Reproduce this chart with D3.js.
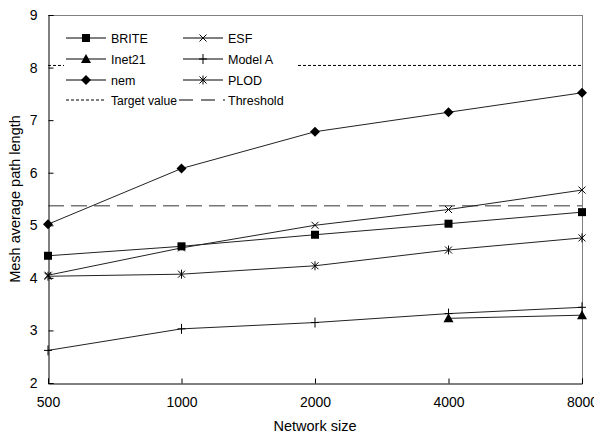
<!DOCTYPE html>
<html><head><meta charset="utf-8">
<script src="https://cdn.jsdelivr.net/npm/d3@7"></script>
<style>body{margin:0;background:#fff}svg{display:block}text{font-family:"Liberation Sans",Arial,sans-serif;fill:#000}</style>
</head><body><svg id="c" width="594" height="434"></svg>
<script>
const sizes = [500, 1000, 2000, 4000, 8000];
const brite = [4.42, 4.60, 4.82, 5.03, 5.25];
const esf = [4.05, 4.57, 5.00, 5.30, 5.67];
const inet21 = [null, null, null, 3.23, 3.29];
const modelA = [2.62, 3.03, 3.15, 3.32, 3.44];
const nem = [5.02, 6.08, 6.78, 7.15, 7.52];
const plod = [4.03, 4.07, 4.23, 4.53, 4.76];
const targetValue = 8.04;
const threshold = 5.37;
const yTicks = [2, 3, 4, 5, 6, 7, 8, 9];
const xTickLabels = ["500", "1000", "2000", "4000", "8000"];

const series = [
  {name: "BRITE", values: brite, marker: "square"},
  {name: "ESF", values: esf, marker: "x"},
  {name: "Inet21", values: inet21, marker: "triangle"},
  {name: "Model A", values: modelA, marker: "plus"},
  {name: "nem", values: nem, marker: "diamond"},
  {name: "PLOD", values: plod, marker: "asterisk"}
];

const svg = d3.select("#c");
const L = 48, R = 582, T = 15, B = 383;
const x = d3.scaleLog().base(2).domain([500, 8000]).range([L, R]);
const y = d3.scaleLinear().domain([2, 9]).range([B, T]);

// frame top/right
svg.append("line").attr("x1", L).attr("x2", R).attr("y1", T + 0.5).attr("y2", T + 0.5).attr("stroke", "#808080");
svg.append("line").attr("x1", R + 0.5).attr("x2", R + 0.5).attr("y1", T).attr("y2", B).attr("stroke", "#808080");

// axes
const yAxis = d3.axisLeft(y).tickValues(yTicks).tickSize(-5).tickPadding(11).tickFormat(d3.format("d"));
const gy = svg.append("g").attr("transform", `translate(${L + 0.5},0)`).call(yAxis);
const xAxis = d3.axisBottom(x).tickValues(sizes).tickSize(-5).tickPadding(14).tickFormat((d, i) => xTickLabels[i]);
const gx = svg.append("g").attr("transform", `translate(0,${B + 0.5})`).call(xAxis);
[gx, gy].forEach(g => {
  g.select(".domain").attr("stroke", "#000");
  g.selectAll(".tick line").attr("stroke", "#000");
  g.selectAll("text").attr("font-size", 14).attr("font-family", "Liberation Sans, Arial, sans-serif").attr("fill", "#000");
});

// reference lines
svg.append("line").attr("x1", L).attr("x2", R).attr("y1", y(targetValue)).attr("y2", y(targetValue))
  .attr("stroke", "#000").attr("stroke-dasharray", "3,2");
svg.append("line").attr("x1", L).attr("x2", R).attr("y1", y(threshold)).attr("y2", y(threshold))
  .attr("stroke", "#333").attr("stroke-dasharray", "16,7");

function drawMarker(g, type, cx, cy) {
  const s = g.append("g").attr("transform", `translate(${cx},${cy})`);
  if (type === "square") s.append("rect").attr("x", -4).attr("y", -4).attr("width", 8).attr("height", 8).attr("fill", "#000");
  else if (type === "triangle") s.append("path").attr("d", "M0,-5L5,4L-5,4Z").attr("fill", "#000");
  else if (type === "diamond") s.append("path").attr("d", "M0,-5L5,0L0,5L-5,0Z").attr("fill", "#000");
  else if (type === "x") s.append("path").attr("d", "M-3.5,-3.5L3.5,3.5M-3.5,3.5L3.5,-3.5").attr("stroke", "#000").attr("fill", "none");
  else if (type === "plus") s.append("path").attr("d", "M0,-5L0,5M-4,0L4,0").attr("stroke", "#000").attr("fill", "none");
  else if (type === "asterisk") s.append("path").attr("d", "M-3.5,-3.5L3.5,3.5M-3.5,3.5L3.5,-3.5M0,-4.5L0,4.5").attr("stroke", "#000").attr("fill", "none");
}

const line = d3.line().defined(d => d.v != null).x(d => x(d.s)).y(d => y(d.v));
series.forEach(sr => {
  const pts = sizes.map((s, i) => ({s, v: sr.values[i]}));
  svg.append("path").attr("d", line(pts)).attr("fill", "none").attr("stroke", "#222").attr("stroke-width", 1);
});
series.forEach(sr => {
  sizes.forEach((s, i) => { if (sr.values[i] != null) drawMarker(svg, sr.marker, x(s), y(sr.values[i])); });
});

// legend
const lg = svg.append("g");
lg.append("rect").attr("x", 64).attr("y", 27).attr("width", 232).attr("height", 84).attr("fill", "#fff");
const cols = [66, 183], rowY = [38, 59, 80, 100];
series.forEach((sr, i) => {
  const cx = cols[i % 2], cy = rowY[Math.floor(i / 2)];
  lg.append("line").attr("x1", cx).attr("x2", cx + 40).attr("y1", cy).attr("y2", cy).attr("stroke", "#000");
  drawMarker(lg, sr.marker, cx + 20, cy);
  lg.append("text").attr("x", cx + 45).attr("y", cy + 4.5).attr("font-size", 12.5).text(sr.name);
});
lg.append("line").attr("x1", cols[0]).attr("x2", cols[0] + 40).attr("y1", rowY[3]).attr("y2", rowY[3]).attr("stroke", "#000").attr("stroke-dasharray", "3,2");
lg.append("text").attr("x", cols[0] + 45).attr("y", rowY[3] + 4.5).attr("font-size", 12.5).attr("textLength", 66).attr("lengthAdjust", "spacingAndGlyphs").text("Target value");
lg.append("line").attr("x1", cols[1] - 4).attr("x2", cols[1] + 42).attr("y1", rowY[3]).attr("y2", rowY[3]).attr("stroke", "#000").attr("stroke-dasharray", "14,8");
lg.append("text").attr("x", cols[1] + 45).attr("y", rowY[3] + 4.5).attr("font-size", 12.5).text("Threshold");

// axis titles
svg.append("text").attr("x", 315).attr("y", 431).attr("text-anchor", "middle").attr("font-size", 14.5).text("Network size");
svg.append("text").attr("transform", `translate(20,${(T + B) / 2}) rotate(-90)`).attr("text-anchor", "middle").attr("font-size", 14.5).text("Mesh average path length");
</script></body></html>
